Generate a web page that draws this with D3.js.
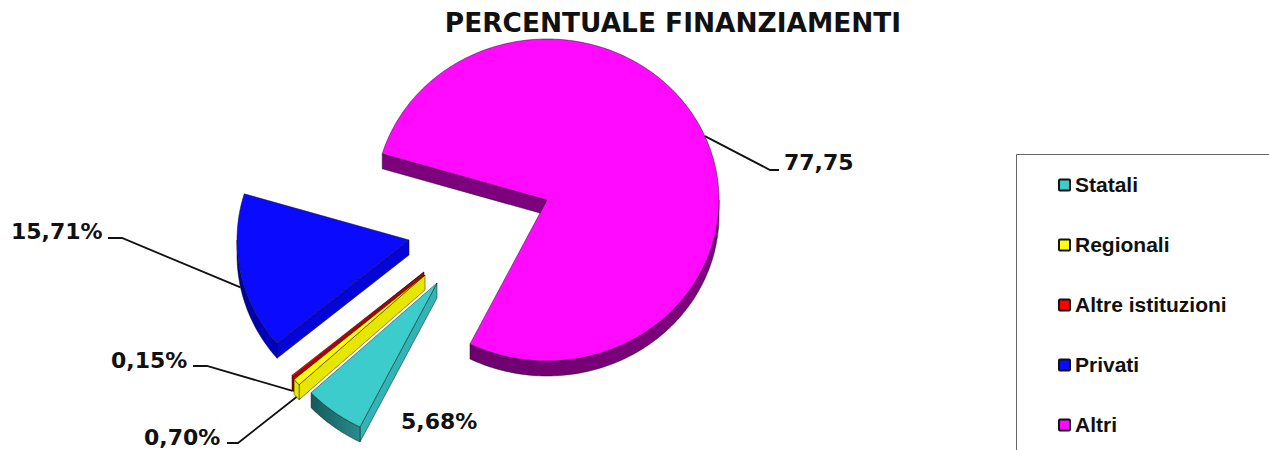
<!DOCTYPE html>
<html>
<head>
<meta charset="utf-8">
<script src="https://cdn.jsdelivr.net/npm/d3@7"></script>
<style>
  html, body { margin: 0; padding: 0; background: #fff; overflow: hidden; }
  .title, .pct { font-family: "DejaVu Sans", sans-serif; font-weight: bold; fill: #111; }
  .legend-text { font-family: "Liberation Sans", Arial, sans-serif; font-weight: bold; font-size: 21px; fill: #111; }
</style>
</head>
<body>
<svg id="chart" width="1269" height="450"></svg>
<script>
const categories = ['Statali', 'Regionali', 'Altre istituzioni', 'Privati', 'Altri']
const values = [5.68, 0.70, 0.15, 15.71, 77.75]
const valueLabels = ['5,68%', '0,70%', '0,15%', '15,71%', '77,75']
const colors = ['#3ccccc', '#ffff00', '#ff0000', '#0a0aff', '#ff0aff']
const sideFront = ['#2a8c8c', '#e6e600', '#b00000', '#0000c8', '#800080']
const sideBack = ['#155a5a', '#e6e600', '#b00000', '#00009a', '#6e006e']
const sideCut = ['#30b4b4', '#e6e600', '#b00000', '#0505d8', '#7d007d']

// layout only: where each exploded slice has its apex, label and leader elbow
const apex = [[437, 283], [425, 275], [424, 272], [409, 240], [547, 200]]
const labelPos = [[401, 429], [144, 445], [111, 368], [11, 239], [784, 170]]
const elbows = [null, [[238, 443], [227, 443]], [[207, 366], [193, 366]], [[122, 238], [108, 238]], [[770, 170], [779, 170]]]

const rx = 172, ry = 161, thick = 15

const svg = d3.select('#chart')
const defs = svg.append('defs')

svg.append('text')
    .attr('class', 'title')
    .attr('x', 673)
    .attr('y', 32)
    .attr('text-anchor', 'middle')
    .style('font-size', '26.4px')
    .text('PERCENTUALE FINANZIAMENTI')

const toRad = Math.PI / 180
const pie = d3.pie().sort(null)
    .startAngle(206.6 * toRad)
    .endAngle(566.6 * toRad)
const slices = pie(values)

const line = d3.line()

// point on the tilted rim, angle clockwise from 12 o'clock
function rim(i, a, dy = 0) {
    return [apex[i][0] + rx * Math.sin(a), apex[i][1] - ry * Math.cos(a) + dy]
}

function rimPoints(i, a0, a1, dy = 0) {
    const n = Math.max(2, Math.ceil((a1 - a0) / (1 * toRad)))
    return d3.range(n + 1).map(k => rim(i, a0 + (a1 - a0) * k / n, dy))
}

const outline = {stroke: '#111', 'stroke-width': 0.6, 'stroke-opacity': 0.8, 'stroke-linejoin': 'round'}

function drawPath(d, fill) {
    const p = svg.append('path').attr('d', d).attr('fill', fill)
    Object.entries(outline).forEach(([k, v]) => p.attr(k, v))
    return p
}

// back to front, the big slice first
d3.range(slices.length).reverse().forEach(i => {
    const s = slices[i]
    const a0 = s.startAngle, a1 = s.endAngle
    const c = apex[i]

    // radial cut wall, only the leading edge faces the viewer here
    if (Math.sin(a0) < 0) {
        const e = rim(i, a0)
        drawPath(line([c, e, [e[0], e[1] + thick], [c[0], c[1] + thick]]) + 'Z', sideCut[i])
    }

    // outer wall, only the front half of the rim shows
    const grad = defs.append('linearGradient').attr('id', 'wall' + i)
    grad.append('stop').attr('offset', '0%').attr('stop-color', sideBack[i])
    grad.append('stop').attr('offset', '100%').attr('stop-color', sideFront[i])
    ;[0, 360].forEach(turn => {
        const from = Math.max(a0, (90 + turn) * toRad)
        const to = Math.min(a1, (270 + turn) * toRad)
        if (to > from) {
            const top = rimPoints(i, from, to)
            const bottom = rimPoints(i, from, to, thick).reverse()
            drawPath(line(top.concat(bottom)) + 'Z', `url(#wall${i})`)
        }
    })

    // top face
    drawPath(line([c].concat(rimPoints(i, a0, a1))) + 'Z', colors[i])
})

// leaders
slices.forEach((s, i) => {
    if (!elbows[i]) return
    const mid = (s.startAngle + s.endAngle) / 2
    const start = rim(i, mid, Math.cos(mid) < 0 ? thick : 0)
    svg.append('path')
        .attr('d', line([start].concat(elbows[i])))
        .attr('fill', 'none')
        .attr('stroke', '#111')
        .attr('stroke-width', 1.8)
})

valueLabels.forEach((t, i) => {
    svg.append('text')
        .attr('class', 'pct')
        .attr('x', labelPos[i][0])
        .attr('y', labelPos[i][1])
        .style('font-size', '22px')
        .text(t)
})

// legend, clipped by the right and bottom of the page
svg.append('path')
    .attr('d', 'M1016.5,450V154.5H1269')
    .attr('fill', 'none')
    .attr('stroke', '#666')

const yLegend = d3.scalePoint()
    .domain(categories)
    .range([185, 425])

const legend = svg.selectAll('.legend-row')
    .data(categories)
    .join('g')
    .attr('class', 'legend-row')
    .attr('transform', d => `translate(1058,${yLegend(d)})`)

legend.append('rect')
    .attr('x', 1)
    .attr('y', -5.5)
    .attr('width', 11)
    .attr('height', 11)
    .attr('rx', 1)
    .attr('fill', (d, i) => colors[i])
    .attr('stroke', '#111')
    .attr('stroke-width', 2)

legend.append('text')
    .attr('class', 'legend-text')
    .attr('x', 17)
    .attr('y', 7)
    .text(d => d)
</script>
</body>
</html>
